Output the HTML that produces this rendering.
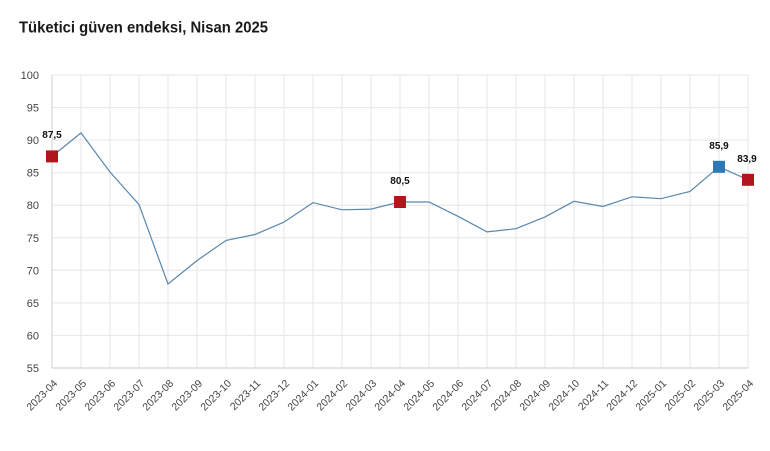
<!DOCTYPE html>
<html><head><meta charset="utf-8"><style>
html,body{margin:0;padding:0;background:#fff;}
svg{display:block;}
text{font-family:"Liberation Sans",sans-serif;}
</style></head><body>
<svg width="770" height="451" viewBox="0 0 770 451" xmlns="http://www.w3.org/2000/svg">
<text x="19" y="32.5" font-size="15.5" font-weight="bold" fill="#1a1a1a" textLength="249" lengthAdjust="spacingAndGlyphs">Tüketici güven endeksi, Nisan 2025</text>
<g stroke="#e6e6e6" stroke-width="1">
<line x1="52" y1="75" x2="748" y2="75"/>
<line x1="52" y1="107.6" x2="748" y2="107.6"/>
<line x1="52" y1="140.1" x2="748" y2="140.1"/>
<line x1="52" y1="172.7" x2="748" y2="172.7"/>
<line x1="52" y1="205.2" x2="748" y2="205.2"/>
<line x1="52" y1="237.8" x2="748" y2="237.8"/>
<line x1="52" y1="270.3" x2="748" y2="270.3"/>
<line x1="52" y1="302.9" x2="748" y2="302.9"/>
<line x1="52" y1="335.4" x2="748" y2="335.4"/>
<line x1="81" y1="75" x2="81" y2="368"/><line x1="110" y1="75" x2="110" y2="368"/><line x1="139" y1="75" x2="139" y2="368"/><line x1="168" y1="75" x2="168" y2="368"/><line x1="197" y1="75" x2="197" y2="368"/><line x1="226" y1="75" x2="226" y2="368"/><line x1="255" y1="75" x2="255" y2="368"/><line x1="284" y1="75" x2="284" y2="368"/><line x1="313" y1="75" x2="313" y2="368"/><line x1="342" y1="75" x2="342" y2="368"/><line x1="371" y1="75" x2="371" y2="368"/><line x1="400" y1="75" x2="400" y2="368"/><line x1="429" y1="75" x2="429" y2="368"/><line x1="458" y1="75" x2="458" y2="368"/><line x1="487" y1="75" x2="487" y2="368"/><line x1="516" y1="75" x2="516" y2="368"/><line x1="545" y1="75" x2="545" y2="368"/><line x1="574" y1="75" x2="574" y2="368"/><line x1="603" y1="75" x2="603" y2="368"/><line x1="632" y1="75" x2="632" y2="368"/><line x1="661" y1="75" x2="661" y2="368"/><line x1="690" y1="75" x2="690" y2="368"/><line x1="719" y1="75" x2="719" y2="368"/><line x1="748" y1="75" x2="748" y2="368"/>
</g>
<line x1="52" y1="75" x2="52" y2="368" stroke="#d0d0d0"/>
<line x1="52" y1="368" x2="748" y2="368" stroke="#c8c8c8"/>
<g font-size="11" fill="#444" text-anchor="end">
<text x="39" y="79">100</text>
<text x="39" y="111.6">95</text>
<text x="39" y="144.1">90</text>
<text x="39" y="176.7">85</text>
<text x="39" y="209.2">80</text>
<text x="39" y="241.8">75</text>
<text x="39" y="274.3">70</text>
<text x="39" y="306.9">65</text>
<text x="39" y="339.4">60</text>
<text x="39" y="372">55</text>
</g>
<g font-size="10.5" fill="#444" text-anchor="end">
<text transform="translate(58,384) rotate(-45)">2023-04</text>
<text transform="translate(87,384) rotate(-45)">2023-05</text>
<text transform="translate(116,384) rotate(-45)">2023-06</text>
<text transform="translate(145,384) rotate(-45)">2023-07</text>
<text transform="translate(174,384) rotate(-45)">2023-08</text>
<text transform="translate(203,384) rotate(-45)">2023-09</text>
<text transform="translate(232,384) rotate(-45)">2023-10</text>
<text transform="translate(261,384) rotate(-45)">2023-11</text>
<text transform="translate(290,384) rotate(-45)">2023-12</text>
<text transform="translate(319,384) rotate(-45)">2024-01</text>
<text transform="translate(348,384) rotate(-45)">2024-02</text>
<text transform="translate(377,384) rotate(-45)">2024-03</text>
<text transform="translate(406,384) rotate(-45)">2024-04</text>
<text transform="translate(435,384) rotate(-45)">2024-05</text>
<text transform="translate(464,384) rotate(-45)">2024-06</text>
<text transform="translate(493,384) rotate(-45)">2024-07</text>
<text transform="translate(522,384) rotate(-45)">2024-08</text>
<text transform="translate(551,384) rotate(-45)">2024-09</text>
<text transform="translate(580,384) rotate(-45)">2024-10</text>
<text transform="translate(609,384) rotate(-45)">2024-11</text>
<text transform="translate(638,384) rotate(-45)">2024-12</text>
<text transform="translate(667,384) rotate(-45)">2025-01</text>
<text transform="translate(696,384) rotate(-45)">2025-02</text>
<text transform="translate(725,384) rotate(-45)">2025-03</text>
<text transform="translate(754,384) rotate(-45)">2025-04</text>
</g>
<polyline fill="none" stroke="#5a87ad" stroke-width="1.2" points="52,156.4 81,132.9 110,172.0 139,204.6 168,284.0 197,260.6 226,240.4 255,234.5 284,222.1 313,202.6 342,209.8 371,209.1 400,202.0 429,202.0 458,216.3 487,231.9 516,228.7 545,216.9 574,201.3 603,206.5 632,196.8 661,198.7 690,191.5 719,166.8 748,179.8"/>
<rect x="46" y="150.4" width="12" height="12" fill="#b0161c"/>
<rect x="394" y="196" width="12" height="12" fill="#b0161c"/>
<rect x="713" y="160.8" width="12" height="12" fill="#2e78b5"/>
<rect x="742" y="173.8" width="12" height="12" fill="#b0161c"/>
<g font-size="10" font-weight="bold" fill="#111" text-anchor="middle">
<text x="52" y="138">87,5</text>
<text x="400" y="184">80,5</text>
<text x="719" y="149">85,9</text>
<text x="747" y="162">83,9</text>
</g>
</svg>
</body></html>
